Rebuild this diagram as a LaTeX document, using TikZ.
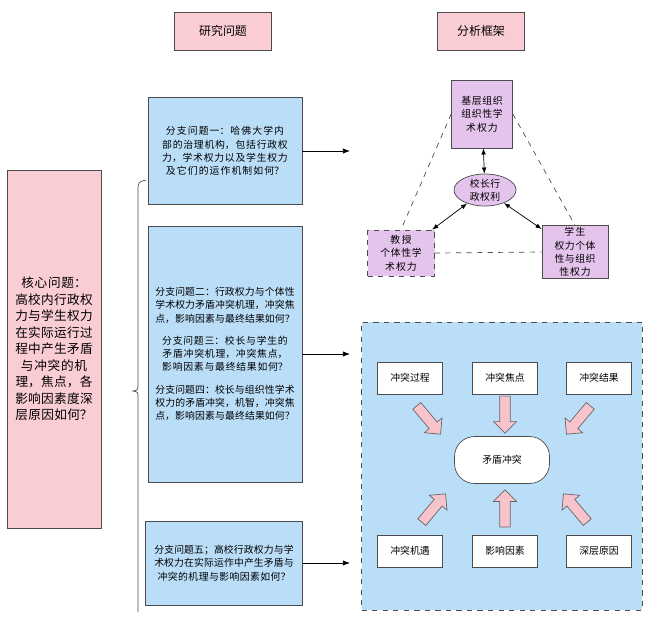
\documentclass[tikz,border=0pt]{standalone}
\usepackage{fontspec}
\setmainfont{Noto Sans CJK SC}
\XeTeXlinebreaklocale "zh"
\XeTeXlinebreakskip=0pt plus 1pt
\usetikzlibrary{shapes.geometric,shapes.arrows,arrows.meta}
\definecolor{pinkbox}{RGB}{250,205,212}
\definecolor{bluebox}{RGB}{187,222,248}
\definecolor{purplebox}{RGB}{228,196,236}
\definecolor{fatpink}{RGB}{248,196,204}
\begin{document}
\begin{tikzpicture}[x=0.02cm,y=-0.02cm]
    \tikzset{every node/.style={font=\fontsize{5.6}{7.6}\selectfont,align=center,inner sep=1pt}}
    \tikzset{pinkbox/.style={draw=black!70,fill=pinkbox}}
    \tikzset{bluebox/.style={draw=black!70,fill=bluebox}}
    \tikzset{purplebox/.style={draw=black!70,fill=purplebox}}
    \tikzset{smallbox/.style={draw=black!70,fill=white,minimum width=1.3cm,minimum height=0.64cm}}
    \tikzset{fat/.style={single arrow,draw=black!60,fill=fatpink,minimum height=0.74cm,minimum width=0.46cm,single arrow head extend=0.12cm,inner sep=2.6pt}}
    %% frame
    \useasboundingbox (0,0) rectangle (655,623);
    % titles
    \node[pinkbox,minimum width=1.94cm,minimum height=0.76cm,font=\fontsize{6.8}{8}\selectfont] (RQ) at (223,31) {研究问题};
    \node[pinkbox,minimum width=1.74cm,minimum height=0.76cm,font=\fontsize{6.8}{8}\selectfont] (AF) at (481,31) {分析框架};
    % core question
    \node[pinkbox,minimum width=1.88cm,minimum height=7.16cm,text width=1.72cm,font=\fontsize{7.2}{9.4}\selectfont] (core) at (54,349) {核心问题：\\高校内行政权力与学生权力在实际运行过程中产生矛盾与冲突的机理，焦点，各影响因素度深层原因如何？};
    % brace
    \draw[black!70] (146,180) .. controls (138,182) .. (138,192) -- (138,384) .. controls (138,390) .. (133,391) .. controls (138,392) .. (138,398) -- (138,612);
    % branch questions
    \node[bluebox,minimum width=3.08cm,minimum height=2.14cm,text width=2.85cm] (Q1) at (225,151) {分支问题一：哈佛大学内部的治理机构，包括行政权力，学术权力以及学生权力及它们的运作机制如何？};
    \node[bluebox,minimum width=3.08cm,minimum height=5.12cm,text width=2.85cm] (Q2) at (225,354) {分支问题二：行政权力与个体性学术权力矛盾冲突机理，冲突焦点，影响因素与最终结果如何？\\[5pt]分支问题三：校长与学生的矛盾冲突机理，冲突焦点，影响因素与最终结果如何？\\[5pt]分支问题四：校长与组织性学术权力的矛盾冲突，机智，冲突焦点，影响因素与最终结果如何？};
    \node[bluebox,minimum width=3.14cm,minimum height=1.68cm,text width=2.85cm] (Q5) at (224,563) {分支问题五；高校行政权力与学术权力在实际运作中产生矛盾与冲突的机理与影响因素如何？};
    \coordinate (T1) at (350,151);
    \coordinate (T2) at (350,354);
    \coordinate (T3) at (350,563);
    \draw[-{Latex[length=4pt]}] (Q1.east) -- (T1);
    \draw[-{Latex[length=4pt]}] (Q2.east) -- (T2);
    \draw[-{Latex[length=4pt]}] (Q5.east) -- (T3);
    % framework, top
    \node[purplebox,minimum width=1.22cm,minimum height=1.36cm,text width=1.1cm] (org) at (482,114) {基层组织组织性学术权力};
    \node[purplebox,ellipse,minimum width=1.24cm,minimum height=0.64cm,text width=0.8cm,inner sep=0pt] (pres) at (485,190) {校长行政权利};
    \node[purplebox,dashed,minimum width=1.34cm,minimum height=0.92cm,text width=1.1cm] (prof) at (401,253) {教授\\个体性学术权力};
    \node[purplebox,minimum width=1.32cm,minimum height=0.9cm,text width=1.05cm] (stu) at (575,252) {学生\\权力个体性与组织性权力};
    \draw[dashed,black!70] (org.west) -- (prof.north);
    \draw[dashed,black!70] (org.east) -- (stu.north);
    \draw[dashed,black!70] (prof.east) -- (stu.west);
    \draw[{Latex[length=3.5pt]}-{Latex[length=3.5pt]}] (org) -- (pres);
    \draw[{Latex[length=3.5pt]}-{Latex[length=3.5pt]}] (pres) -- (prof);
    \draw[{Latex[length=3.5pt]}-{Latex[length=3.5pt]}] (pres) -- (stu);
    % framework, bottom
    \node[draw=black!70,dashed,fill=bluebox,minimum width=5.62cm,minimum height=5.76cm] (panel) at (502,466) {};
    \node[smallbox] (proc) at (410,378) {冲突过程};
    \node[smallbox] (focus) at (505,378) {冲突焦点};
    \node[smallbox] (res) at (599,378) {冲突结果};
    \node[smallbox] (chance) at (410,551) {冲突机遇};
    \node[smallbox] (fact) at (505,551) {影响因素};
    \node[smallbox] (deep) at (599,551) {深层原因};
    \node[draw=black!70,fill=white,rounded corners=0.4cm,minimum width=1.9cm,minimum height=0.94cm] (conf) at (502,460) {矛盾冲突};
    \node[fat,rotate=-50] (a1) at (427,418) {};
    \node[fat,rotate=-90] (a2) at (505,412) {};
    \node[fat,rotate=-130] (a3) at (580,418) {};
    \node[fat,rotate=50] (a4) at (432,510) {};
    \node[fat,rotate=90] (a5) at (505,511) {};
    \node[fat,rotate=130] (a6) at (577,510) {};
\end{tikzpicture}
\end{document}
